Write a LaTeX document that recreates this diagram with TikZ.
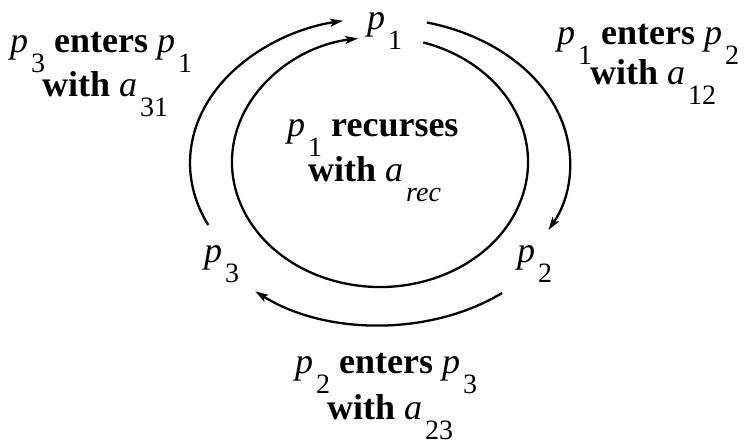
\documentclass[tikz,border=0pt]{standalone}
\usepackage{fontspec}
\setmainfont{Liberation Serif}
\usetikzlibrary{arrows.meta}
\newcommand{\vs}[2]{\textit{#1}\kern3pt\raisebox{-20pt}{\fontsize{28}{28}\selectfont #2}}
\tikzset{
  lbl/.style={inner sep=0pt, font=\fontsize{36}{40}\selectfont, anchor=base west},
  flow/.style={line width=2.3pt, -{Stealth[length=13pt,width=8pt,inset=3pt]}}
}
\begin{document}
\begin{tikzpicture}[x=1pt,y=1pt]
\useasboundingbox (0,0) rectangle (744,442);
% process nodes
\node[lbl] (p1) at (367,412) {\vs{p}{1}};
\node[lbl] (p2) at (517,179) {\vs{p}{2}};
\node[lbl] (p3) at (204,179) {\vs{p}{3}};
% arc start points
\path (380,280) ++(73:148 and 125) coordinate (rec0);
\path (380,279) ++(205.3:190 and 145) coordinate (e31);
\path (380,279) ++(75.7:190 and 145) coordinate (e12);
\path (380,254) ++(-50:190 and 137) coordinate (e23);
% connectors
\draw[flow] (rec0) arc[start angle=73, end angle=-261.5, x radius=148, y radius=125];
\draw[flow] (e31) arc[start angle=205.3, end angle=101.2, x radius=190, y radius=145];
\draw[flow] (e12) arc[start angle=75.7, end angle=-27.5, x radius=190, y radius=145];
\draw[flow] (e23) arc[start angle=-50, end angle=-131, x radius=190, y radius=137];
% labels
\node[lbl] (l31a) at (10,389) {\vs{p}{3} \textbf{enters} \vs{p}{1}};
\node[lbl] (l31b) at (42,345) {\textbf{with} \vs{a}{31}};
\node[lbl] (l12a) at (557,397) {\vs{p}{1} \textbf{enters} \vs{p}{2}};
\node[lbl] (l12b) at (590,357) {\textbf{with} \vs{a}{12}};
\node[lbl] (lra) at (287,305) {\vs{p}{1} \textbf{recurses}};
\node[lbl] (lrb) at (308,260) {\textbf{with} \vs{a}{\textit{rec}}};
\node[lbl] (l23a) at (295,69) {\vs{p}{2} \textbf{enters} \vs{p}{3}};
\node[lbl] (l23b) at (327,23) {\textbf{with} \vs{a}{23}};
\end{tikzpicture}
\end{document}
